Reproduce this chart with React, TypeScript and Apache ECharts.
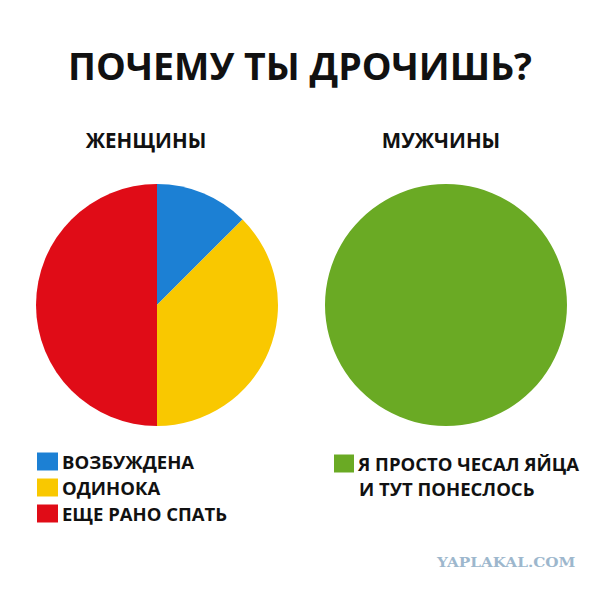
import React, { useEffect, useRef } from "react";
import * as echarts from "echarts";

const chartTitle = "ПОЧЕМУ ТЫ ДРОЧИШЬ?";
const womenTitle = "ЖЕНЩИНЫ";
const menTitle = "МУЖЧИНЫ";
const womenCategories = ["ВОЗБУЖДЕНА", "ОДИНОКА", "ЕЩЕ РАНО СПАТЬ"];
const womenValues = [12.5, 37.5, 50];
const womenColors = ["#1c80d4", "#f9c800", "#e00c17"];
const menCategories = ["Я ПРОСТО ЧЕСАЛ ЯЙЦА\nИ ТУТ ПОНЕСЛОСЬ"];
const menValues = [100];
const menColors = ["#6aaa24"];
const watermark = "YAPLAKAL.COM";

const FONT = "'Open Sans', 'Noto Sans', sans-serif";

export default function App() {
  const ref = useRef<HTMLDivElement>(null);
  useEffect(() => {
    if (!ref.current) return;
    const chart = echarts.init(ref.current, null, { renderer: "svg" });
    const menLines = menCategories[0].split("\n");
    chart.setOption({
      animation: false,
      backgroundColor: "#ffffff",
      title: [
        {
          text: chartTitle,
          left: "center",
          top: 41,
          textStyle: { fontFamily: FONT, fontSize: 37.5, fontWeight: "bold", color: "#111111" },
        },
        {
          text: womenTitle,
          left: 141,
          textAlign: "center",
          top: 124,
          textStyle: { fontFamily: FONT, fontSize: 20.5, fontWeight: "bold", color: "#111111" },
        },
        {
          text: menTitle,
          left: 436,
          textAlign: "center",
          top: 124,
          textStyle: { fontFamily: FONT, fontSize: 20.5, fontWeight: "bold", color: "#111111" },
        },
      ],
      legend: [
        {
          data: womenCategories,
          orient: "vertical",
          left: 37,
          top: 452,
          icon: "rect",
          itemWidth: 21,
          itemHeight: 18,
          itemGap: 7,
          padding: 0,
          textStyle: { fontFamily: FONT, fontSize: 18.5, fontWeight: "bold", color: "#111111", padding: [0, 0, 0, -1] },
          selectedMode: false,
        },
        {
          data: menCategories,
          orient: "vertical",
          left: 334,
          top: 454,
          icon: "rect",
          itemWidth: 20,
          itemHeight: 18,
          padding: 0,
          formatter: (name: string) => name.split("\n")[0],
          textStyle: { fontFamily: FONT, fontSize: 18.5, fontWeight: "bold", color: "#111111", padding: [0, 0, 0, -1] },
          selectedMode: false,
        },
      ],
      graphic: [
        {
          type: "text",
          left: 359,
          top: 479,
          style: { text: menLines[1], font: `bold 18.5px ${FONT}`, fill: "#111111" },
        },
        {
          type: "text",
          x: 437,
          y: 555,
          scaleX: 1.13,
          style: { text: watermark, font: "bold 13.5px 'DejaVu Serif', serif", fill: "#9db7cd" },
        },
      ],
      series: [
        {
          type: "pie",
          center: [157, 305],
          radius: 121,
          startAngle: 90,
          clockwise: true,
          label: { show: false },
          labelLine: { show: false },
          silent: true,
          itemStyle: { borderWidth: 0 },
          data: womenCategories.map((name, i) => ({
            name,
            value: womenValues[i],
            itemStyle: { color: womenColors[i] },
          })),
        },
        {
          type: "pie",
          center: [446, 305],
          radius: 121,
          startAngle: 90,
          label: { show: false },
          labelLine: { show: false },
          silent: true,
          itemStyle: { borderWidth: 0 },
          data: menCategories.map((name, i) => ({
            name,
            value: menValues[i],
            itemStyle: { color: menColors[i] },
          })),
        },
      ],
    });
    return () => chart.dispose();
  }, []);
  return (
    <div
      ref={ref}
      style={{ position: "absolute", left: 0, top: 0, width: 600, height: 593, background: "#fff" }}
    />
  );
}
